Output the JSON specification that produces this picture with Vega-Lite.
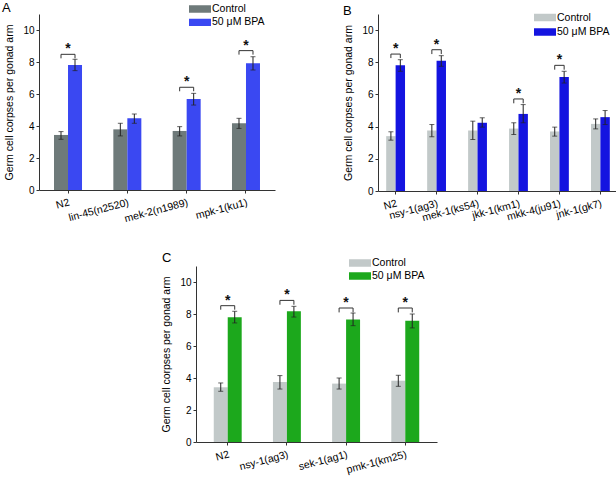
{
  "$schema": "https://vega.github.io/schema/vega-lite/v6.json",
  "padding": {"left": 2, "top": 2, "right": 0, "bottom": 0},
  "background": "white",
  "datasets": {
    "aBars": [
      {"group": "N2", "cond": "Control", "value": 3.44, "lo": 3.17, "hi": 3.65},
      {"group": "N2", "cond": "50 μM BPA", "value": 7.81, "lo": 7.46, "hi": 8.17},
      {"group": "lin-45(n2520)", "cond": "Control", "value": 3.79, "lo": 3.38, "hi": 4.17},
      {"group": "lin-45(n2520)", "cond": "50 μM BPA", "value": 4.48, "lo": 4.17, "hi": 4.75},
      {"group": "mek-2(n1989)", "cond": "Control", "value": 3.69, "lo": 3.38, "hi": 3.96},
      {"group": "mek-2(n1989)", "cond": "50 μM BPA", "value": 5.69, "lo": 5.31, "hi": 6.04},
      {"group": "mpk-1(ku1)", "cond": "Control", "value": 4.17, "lo": 3.85, "hi": 4.48},
      {"group": "mpk-1(ku1)", "cond": "50 μM BPA", "value": 7.92, "lo": 7.5, "hi": 8.33}
    ],
    "aBr": [
      {"group": "N2", "cond": "Control", "yv": 8.23, "k": 1},
      {"group": "N2", "cond": "Control", "yv": 8.48, "k": 2},
      {"group": "N2", "cond": "50 μM BPA", "yv": 8.48, "k": 3},
      {"group": "N2", "cond": "50 μM BPA", "yv": 8.23, "k": 4},
      {"group": "mek-2(n1989)", "cond": "Control", "yv": 6.17, "k": 1},
      {"group": "mek-2(n1989)", "cond": "Control", "yv": 6.42, "k": 2},
      {"group": "mek-2(n1989)", "cond": "50 μM BPA", "yv": 6.42, "k": 3},
      {"group": "mek-2(n1989)", "cond": "50 μM BPA", "yv": 6.17, "k": 4},
      {"group": "mpk-1(ku1)", "cond": "Control", "yv": 8.46, "k": 1},
      {"group": "mpk-1(ku1)", "cond": "Control", "yv": 8.71, "k": 2},
      {"group": "mpk-1(ku1)", "cond": "50 μM BPA", "yv": 8.71, "k": 3},
      {"group": "mpk-1(ku1)", "cond": "50 μM BPA", "yv": 8.46, "k": 4}
    ],
    "bBars": [
      {"group": "N2", "cond": "Control", "value": 3.41, "lo": 3.16, "hi": 3.68},
      {"group": "N2", "cond": "50 μM BPA", "value": 7.81, "lo": 7.44, "hi": 8.16},
      {"group": "nsy-1(ag3)", "cond": "Control", "value": 3.76, "lo": 3.37, "hi": 4.13},
      {"group": "nsy-1(ag3)", "cond": "50 μM BPA", "value": 8.1, "lo": 7.75, "hi": 8.41},
      {"group": "mek-1(ks54)", "cond": "Control", "value": 3.76, "lo": 3.2, "hi": 4.34},
      {"group": "mek-1(ks54)", "cond": "50 μM BPA", "value": 4.24, "lo": 3.97, "hi": 4.55},
      {"group": "jkk-1(km1)", "cond": "Control", "value": 3.88, "lo": 3.51, "hi": 4.24},
      {"group": "jkk-1(km1)", "cond": "50 μM BPA", "value": 4.79, "lo": 4.24, "hi": 5.37},
      {"group": "mkk-4(ju91)", "cond": "Control", "value": 3.7, "lo": 3.41, "hi": 3.97},
      {"group": "mkk-4(ju91)", "cond": "50 μM BPA", "value": 7.09, "lo": 6.71, "hi": 7.44},
      {"group": "jnk-1(gk7)", "cond": "Control", "value": 4.17, "lo": 3.86, "hi": 4.48},
      {"group": "jnk-1(gk7)", "cond": "50 μM BPA", "value": 4.59, "lo": 4.13, "hi": 5.0}
    ],
    "bBr": [
      {"group": "N2", "cond": "Control", "yv": 8.26, "k": 1},
      {"group": "N2", "cond": "Control", "yv": 8.51, "k": 2},
      {"group": "N2", "cond": "50 μM BPA", "yv": 8.51, "k": 3},
      {"group": "N2", "cond": "50 μM BPA", "yv": 8.26, "k": 4},
      {"group": "nsy-1(ag3)", "cond": "Control", "yv": 8.51, "k": 1},
      {"group": "nsy-1(ag3)", "cond": "Control", "yv": 8.78, "k": 2},
      {"group": "nsy-1(ag3)", "cond": "50 μM BPA", "yv": 8.78, "k": 3},
      {"group": "nsy-1(ag3)", "cond": "50 μM BPA", "yv": 8.51, "k": 4},
      {"group": "jkk-1(km1)", "cond": "Control", "yv": 5.45, "k": 1},
      {"group": "jkk-1(km1)", "cond": "Control", "yv": 5.72, "k": 2},
      {"group": "jkk-1(km1)", "cond": "50 μM BPA", "yv": 5.72, "k": 3},
      {"group": "jkk-1(km1)", "cond": "50 μM BPA", "yv": 5.45, "k": 4},
      {"group": "mkk-4(ju91)", "cond": "Control", "yv": 7.54, "k": 1},
      {"group": "mkk-4(ju91)", "cond": "Control", "yv": 7.81, "k": 2},
      {"group": "mkk-4(ju91)", "cond": "50 μM BPA", "yv": 7.81, "k": 3},
      {"group": "mkk-4(ju91)", "cond": "50 μM BPA", "yv": 7.54, "k": 4}
    ],
    "cBars": [
      {"group": "N2", "cond": "Control", "value": 3.42, "lo": 3.17, "hi": 3.69},
      {"group": "N2", "cond": "50 μM BPA", "value": 7.79, "lo": 7.44, "hi": 8.17},
      {"group": "nsy-1(ag3)", "cond": "Control", "value": 3.75, "lo": 3.31, "hi": 4.15},
      {"group": "nsy-1(ag3)", "cond": "50 μM BPA", "value": 8.17, "lo": 7.81, "hi": 8.48},
      {"group": "sek-1(ag1)", "cond": "Control", "value": 3.65, "lo": 3.31, "hi": 4.0},
      {"group": "sek-1(ag1)", "cond": "50 μM BPA", "value": 7.65, "lo": 7.27, "hi": 8.06},
      {"group": "pmk-1(km25)", "cond": "Control", "value": 3.83, "lo": 3.48, "hi": 4.17},
      {"group": "pmk-1(km25)", "cond": "50 μM BPA", "value": 7.58, "lo": 7.13, "hi": 8.0}
    ],
    "cBr": [
      {"group": "N2", "cond": "Control", "yv": 8.27, "k": 1},
      {"group": "N2", "cond": "Control", "yv": 8.52, "k": 2},
      {"group": "N2", "cond": "50 μM BPA", "yv": 8.52, "k": 3},
      {"group": "N2", "cond": "50 μM BPA", "yv": 8.27, "k": 4},
      {"group": "nsy-1(ag3)", "cond": "Control", "yv": 8.58, "k": 1},
      {"group": "nsy-1(ag3)", "cond": "Control", "yv": 8.85, "k": 2},
      {"group": "nsy-1(ag3)", "cond": "50 μM BPA", "yv": 8.85, "k": 3},
      {"group": "nsy-1(ag3)", "cond": "50 μM BPA", "yv": 8.58, "k": 4},
      {"group": "sek-1(ag1)", "cond": "Control", "yv": 8.1, "k": 1},
      {"group": "sek-1(ag1)", "cond": "Control", "yv": 8.375, "k": 2},
      {"group": "sek-1(ag1)", "cond": "50 μM BPA", "yv": 8.375, "k": 3},
      {"group": "sek-1(ag1)", "cond": "50 μM BPA", "yv": 8.1, "k": 4},
      {"group": "pmk-1(km25)", "cond": "Control", "yv": 8.1, "k": 1},
      {"group": "pmk-1(km25)", "cond": "Control", "yv": 8.375, "k": 2},
      {"group": "pmk-1(km25)", "cond": "50 μM BPA", "yv": 8.375, "k": 3},
      {"group": "pmk-1(km25)", "cond": "50 μM BPA", "yv": 8.1, "k": 4}
    ]
  },
  "spacing": 27,
  "resolve": {"scale": {"x": "independent", "y": "independent", "color": "independent", "xOffset": "independent"}, "legend": {"color": "independent"}},
  "vconcat": [
    {
      "spacing": 68,
      "resolve": {"scale": {"x": "independent", "y": "independent", "color": "independent", "xOffset": "independent"}, "legend": {"color": "independent"}},
      "hconcat": [
        {
          "width": 236,
          "height": 176,
          "title": {"text": "A", "dx": -37, "dy": 16},
          "layer": [
            {
              "data": {"name": "aBars"},
              "mark": {"type": "bar"},
              "encoding": {
                "x": {"field": "group", "type": "nominal", "title": null,
                  "scale": {"domain": ["N2", "lin-45(n2520)", "mek-2(n1989)", "mpk-1(ku1)"], "paddingInner": 0.528, "paddingOuter": 0.253}},
                "xOffset": {"field": "cond", "type": "nominal", "scale": {"domain": ["Control", "50 μM BPA"], "paddingInner": 0, "paddingOuter": 0}},
                "y": {"field": "value", "type": "quantitative", "title": "Germ cell corpses per gonad arm", "scale": {"domain": [0, 11], "nice": false}},
                "color": {"field": "cond", "type": "nominal", "scale": {"domain": ["Control", "50 μM BPA"], "range": ["#6e7a7a", "#3a48f2"]},
                  "legend": {"legendX": 150, "legendY": -11, "rowPadding": 1.3}}
              }
            },
            {
              "data": {"name": "aBars"},
              "mark": {"type": "rule", "color": "#222", "strokeWidth": 1},
              "encoding": {
                "x": {"field": "group", "type": "nominal"},
                "xOffset": {"field": "cond", "type": "nominal"},
                "y": {"field": "lo", "type": "quantitative"},
                "y2": {"field": "hi"}
              }
            },
            {
              "data": {"name": "aBars"},
              "mark": {"type": "tick", "color": "#222", "size": 5, "thickness": 1},
              "encoding": {
                "x": {"field": "group", "type": "nominal"},
                "xOffset": {"field": "cond", "type": "nominal"},
                "y": {"field": "lo", "type": "quantitative"}
              }
            },
            {
              "data": {"name": "aBars"},
              "mark": {"type": "tick", "color": "#222", "size": 5, "thickness": 1},
              "encoding": {
                "x": {"field": "group", "type": "nominal"},
                "xOffset": {"field": "cond", "type": "nominal"},
                "y": {"field": "hi", "type": "quantitative"}
              }
            },
            {
              "data": {"name": "aBr"},
              "mark": {"type": "line", "color": "#333", "strokeWidth": 1},
              "encoding": {
                "x": {"field": "group", "type": "nominal"},
                "xOffset": {"field": "cond", "type": "nominal"},
                "y": {"field": "yv", "type": "quantitative"},
                "order": {"field": "k", "type": "quantitative"},
                "detail": {"field": "group", "type": "nominal"}
              }
            },
            {
              "data": {"name": "aBr"},
              "transform": [{"filter": "datum.k == 2"}],
              "mark": {"type": "text", "text": "*", "fontSize": 14, "fontWeight": "bold", "baseline": "alphabetic", "dy": -1, "color": "#111"},
              "encoding": {
                "x": {"field": "group", "type": "nominal"},
                "y": {"field": "yv", "type": "quantitative"}
              }
            }
          ]
        },
        {
          "width": 240,
          "height": 177,
          "title": {"text": "B", "dx": -35, "dy": 10},
          "layer": [
            {
              "data": {"name": "bBars"},
              "mark": {"type": "bar"},
              "encoding": {
                "x": {"field": "group", "type": "nominal", "title": null,
                  "scale": {"domain": ["N2", "nsy-1(ag3)", "mek-1(ks54)", "jkk-1(km1)", "mkk-4(ju91)", "jnk-1(gk7)"], "paddingInner": 0.54, "paddingOuter": 0.2}},
                "xOffset": {"field": "cond", "type": "nominal", "scale": {"domain": ["Control", "50 μM BPA"], "paddingInner": 0, "paddingOuter": 0}},
                "y": {"field": "value", "type": "quantitative", "title": "Germ cell corpses per gonad arm", "scale": {"domain": [0, 11], "nice": false}},
                "color": {"field": "cond", "type": "nominal", "scale": {"domain": ["Control", "50 μM BPA"], "range": ["#c2c9c9", "#1414e0"]},
                  "legend": {"legendX": 156, "legendY": -2.5, "rowPadding": 2.5}}
              }
            },
            {
              "data": {"name": "bBars"},
              "mark": {"type": "rule", "color": "#222", "strokeWidth": 1},
              "encoding": {
                "x": {"field": "group", "type": "nominal"},
                "xOffset": {"field": "cond", "type": "nominal"},
                "y": {"field": "lo", "type": "quantitative"},
                "y2": {"field": "hi"}
              }
            },
            {
              "data": {"name": "bBars"},
              "mark": {"type": "tick", "color": "#222", "size": 5, "thickness": 1},
              "encoding": {
                "x": {"field": "group", "type": "nominal"},
                "xOffset": {"field": "cond", "type": "nominal"},
                "y": {"field": "lo", "type": "quantitative"}
              }
            },
            {
              "data": {"name": "bBars"},
              "mark": {"type": "tick", "color": "#222", "size": 5, "thickness": 1},
              "encoding": {
                "x": {"field": "group", "type": "nominal"},
                "xOffset": {"field": "cond", "type": "nominal"},
                "y": {"field": "hi", "type": "quantitative"}
              }
            },
            {
              "data": {"name": "bBr"},
              "mark": {"type": "line", "color": "#333", "strokeWidth": 1},
              "encoding": {
                "x": {"field": "group", "type": "nominal"},
                "xOffset": {"field": "cond", "type": "nominal"},
                "y": {"field": "yv", "type": "quantitative"},
                "order": {"field": "k", "type": "quantitative"},
                "detail": {"field": "group", "type": "nominal"}
              }
            },
            {
              "data": {"name": "bBr"},
              "transform": [{"filter": "datum.k == 2"}],
              "mark": {"type": "text", "text": "*", "fontSize": 14, "fontWeight": "bold", "baseline": "alphabetic", "dy": -1, "color": "#111"},
              "encoding": {
                "x": {"field": "group", "type": "nominal"},
                "y": {"field": "yv", "type": "quantitative"}
              }
            }
          ]
        }
      ]
    },
    {
      "spacing": 10,
      "resolve": {"scale": {"x": "independent", "y": "independent", "color": "independent", "xOffset": "independent"}, "legend": {"color": "independent"}},
      "hconcat": [
        {
          "width": 112,
          "height": 10,
          "data": {"values": [{"a": 1}]},
          "mark": {"type": "point", "opacity": 0},
          "encoding": {}
        },
        {
          "width": 241,
          "height": 176,
          "title": {"text": "C", "dx": -34, "dy": 12},
          "layer": [
            {
              "data": {"name": "cBars"},
              "mark": {"type": "bar"},
              "encoding": {
                "x": {"field": "group", "type": "nominal", "title": null,
                  "scale": {"domain": ["N2", "nsy-1(ag3)", "sek-1(ag1)", "pmk-1(km25)"], "paddingInner": 0.528, "paddingOuter": 0.3}},
                "xOffset": {"field": "cond", "type": "nominal", "scale": {"domain": ["Control", "50 μM BPA"], "paddingInner": 0, "paddingOuter": 0}},
                "y": {"field": "value", "type": "quantitative", "title": "Germ cell corpses per gonad arm", "scale": {"domain": [0, 11], "nice": false}},
                "color": {"field": "cond", "type": "nominal", "scale": {"domain": ["Control", "50 μM BPA"], "range": ["#c2c9c9", "#1ca81c"]},
                  "legend": {"legendX": 153, "legendY": -9, "rowPadding": 1}}
              }
            },
            {
              "data": {"name": "cBars"},
              "mark": {"type": "rule", "color": "#222", "strokeWidth": 1},
              "encoding": {
                "x": {"field": "group", "type": "nominal"},
                "xOffset": {"field": "cond", "type": "nominal"},
                "y": {"field": "lo", "type": "quantitative"},
                "y2": {"field": "hi"}
              }
            },
            {
              "data": {"name": "cBars"},
              "mark": {"type": "tick", "color": "#222", "size": 5, "thickness": 1},
              "encoding": {
                "x": {"field": "group", "type": "nominal"},
                "xOffset": {"field": "cond", "type": "nominal"},
                "y": {"field": "lo", "type": "quantitative"}
              }
            },
            {
              "data": {"name": "cBars"},
              "mark": {"type": "tick", "color": "#222", "size": 5, "thickness": 1},
              "encoding": {
                "x": {"field": "group", "type": "nominal"},
                "xOffset": {"field": "cond", "type": "nominal"},
                "y": {"field": "hi", "type": "quantitative"}
              }
            },
            {
              "data": {"name": "cBr"},
              "mark": {"type": "line", "color": "#333", "strokeWidth": 1},
              "encoding": {
                "x": {"field": "group", "type": "nominal"},
                "xOffset": {"field": "cond", "type": "nominal"},
                "y": {"field": "yv", "type": "quantitative"},
                "order": {"field": "k", "type": "quantitative"},
                "detail": {"field": "group", "type": "nominal"}
              }
            },
            {
              "data": {"name": "cBr"},
              "transform": [{"filter": "datum.k == 2"}],
              "mark": {"type": "text", "text": "*", "fontSize": 14, "fontWeight": "bold", "baseline": "alphabetic", "dy": -1, "color": "#111"},
              "encoding": {
                "x": {"field": "group", "type": "nominal"},
                "y": {"field": "yv", "type": "quantitative"}
              }
            }
          ]
        }
      ]
    }
  ],
  "config": {
    "view": {"stroke": null},
    "font": "Liberation Sans",
    "axis": {
      "grid": false,
      "domainColor": "#333",
      "tickColor": "#333",
      "labelColor": "#000",
      "titleColor": "#000",
      "labelFont": "Liberation Sans",
      "titleFont": "Liberation Sans",
      "titleFontWeight": "normal",
      "tickSize": 3
    },
    "axisY": {
      "values": [0, 2, 4, 6, 8, 10],
      "labelFontSize": 10,
      "titleFontSize": 10.5,
      "labelPadding": 2,
      "titlePadding": 8
    },
    "axisX": {
      "labelAngle": -15,
      "labelFontSize": 10.5,
      "labelPadding": 4,
      "labelOverlap": false
    },
    "legend": {
      "orient": "none",
      "title": null,
      "symbolType": "M-1,-0.33H1V0.33H-1Z",
      "symbolSize": 484,
      "symbolStrokeWidth": 0,
      "symbolOpacity": 1,
      "labelFont": "Liberation Sans",
      "labelFontSize": 10.5,
      "labelColor": "#000",
      "labelOffset": 1,
      "clipHeight": 12,
      "padding": 0
    },
    "title": {
      "font": "Liberation Sans",
      "fontSize": 13,
      "fontWeight": "normal",
      "anchor": "start",
      "frame": "group",
      "color": "#000"
    }
  }
}
